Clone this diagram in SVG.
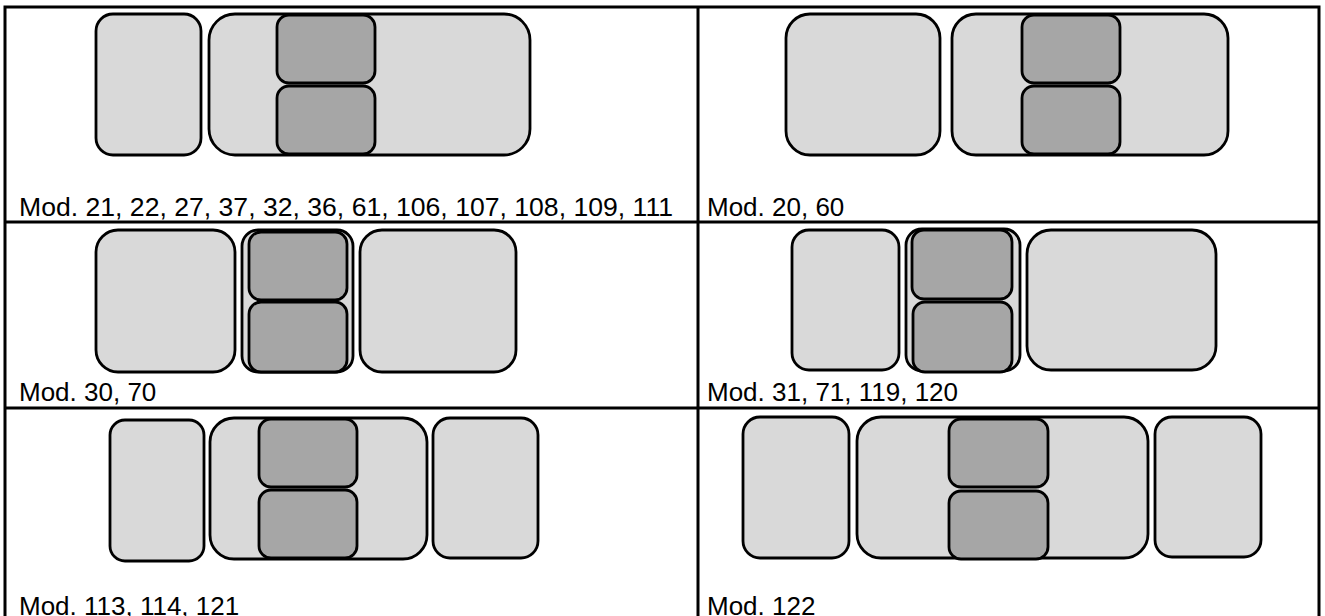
<svg xmlns="http://www.w3.org/2000/svg" width="1325" height="616" viewBox="0 0 1325 616">
<style>
.grid{stroke:#000;stroke-width:3;fill:none}
.lt{fill:#d9d9d9;stroke:#000;stroke-width:2.8}
.dk{fill:#a6a6a6;stroke:#000;stroke-width:2.8}
.lbl{font-family:"Liberation Sans",Arial,sans-serif;font-size:26px;fill:#000}
</style>
<rect width="1325" height="616" fill="#fff"/>
<g id="table">
<path class="grid" d="M5,630 V7 H1319 V630 M698,7 V630 M5,222 H1319 M5,408 H1319"/>
</g>
<g id="panel1">
<rect class="lt" x="96" y="14" width="105" height="141" rx="17"/>
<rect class="lt" x="209" y="14" width="321" height="141" rx="26"/>
<rect class="dk" x="277" y="15" width="98" height="68" rx="12"/>
<rect class="dk" x="277" y="86" width="98" height="68" rx="12"/>
<text class="lbl" x="19" y="216" textLength="654" lengthAdjust="spacingAndGlyphs">Mod. 21, 22, 27, 37, 32, 36, 61, 106, 107, 108, 109, 111</text>
</g>
<g id="panel2">
<rect class="lt" x="786" y="14" width="154" height="141" rx="24"/>
<rect class="lt" x="952" y="14" width="276" height="141" rx="24"/>
<rect class="dk" x="1022" y="15" width="98" height="68" rx="12"/>
<rect class="dk" x="1022" y="86" width="98" height="68" rx="12"/>
<text class="lbl" x="707" y="216">Mod. 20, 60</text>
</g>
<g id="panel3">
<rect class="lt" x="96" y="230" width="139" height="142" rx="22"/>
<rect class="lt" x="242" y="230" width="111" height="142" rx="16"/>
<rect class="dk" x="249" y="232" width="98" height="68" rx="12"/>
<rect class="dk" x="249" y="302" width="98" height="70" rx="12"/>
<rect class="lt" x="360" y="230" width="156" height="142" rx="22"/>
<text class="lbl" x="19" y="401">Mod. 30, 70</text>
</g>
<g id="panel4">
<rect class="lt" x="792" y="230" width="107" height="140" rx="17"/>
<rect class="lt" x="906" y="229" width="114" height="142" rx="16"/>
<rect class="dk" x="912" y="230" width="100" height="69" rx="12"/>
<rect class="dk" x="913" y="302" width="99" height="70" rx="12"/>
<rect class="lt" x="1027" y="230" width="189" height="140" rx="24"/>
<text class="lbl" x="707" y="401">Mod. 31, 71, 119, 120</text>
</g>
<g id="panel5">
<rect class="lt" x="110" y="420" width="94" height="141" rx="15"/>
<rect class="lt" x="210" y="418" width="217" height="141" rx="24"/>
<rect class="dk" x="259" y="419" width="98" height="68" rx="12"/>
<rect class="dk" x="259" y="490" width="98" height="68" rx="12"/>
<rect class="lt" x="433" y="418" width="105" height="140" rx="17"/>
<text class="lbl" x="19" y="615">Mod. 113, 114, 121</text>
</g>
<g id="panel6">
<rect class="lt" x="743" y="417" width="106" height="141" rx="17"/>
<rect class="lt" x="857" y="417" width="291" height="141" rx="24"/>
<rect class="dk" x="949" y="419" width="99" height="68" rx="12"/>
<rect class="dk" x="949" y="491" width="99" height="68" rx="12"/>
<rect class="lt" x="1155" y="417" width="106" height="140" rx="17"/>
<text class="lbl" x="707" y="615">Mod. 122</text>
</g>
<g id="connectors"/>
</svg>
